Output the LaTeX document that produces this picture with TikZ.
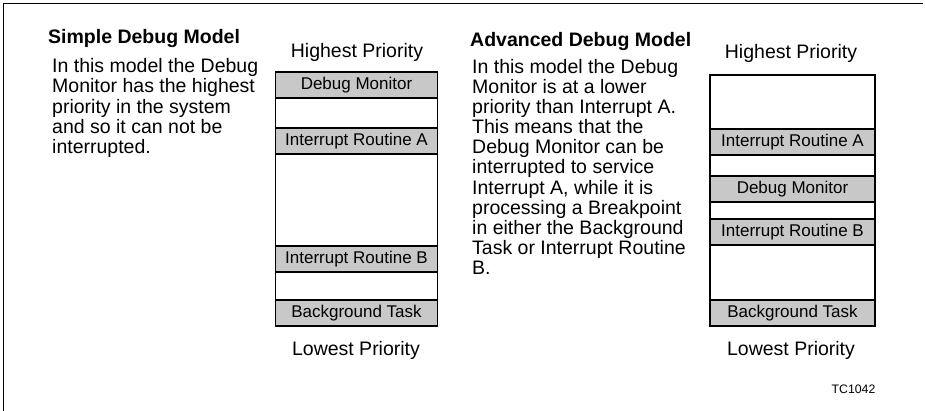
\documentclass[tikz,border=0pt]{standalone}
\usepackage{fontspec}
\setmainfont{Liberation Sans}
\usepackage{xcolor}
\usepackage{tikz}
\definecolor{bandgray}{RGB}{200,200,200}

\begin{document}
\begin{tikzpicture}[x=1pt,y=-1pt,
  band/.style={draw, line width=1.6pt, fill=bandgray, minimum width=162pt, minimum height=26pt, inner sep=0pt, font=\fontsize{17}{17}\selectfont},
  prio/.style={anchor=base, inner sep=0pt, font=\fontsize{19.5}{20}\selectfont},
  title/.style={anchor=base west, inner sep=0pt, font=\fontsize{19.5}{20}\selectfont\bfseries},
  body/.style={anchor=north west, inner sep=0pt, align=left, font=\fontsize{19.5}{20.1}\selectfont}]
\useasboundingbox (0,0) rectangle (925,411);
\draw[line width=1.4pt] (3.5,411) -- (3.5,3.5) -- (923,3.5);

% simple debug model
\node[title] (simpletitle) at (48,44) {Simple Debug Model};
\node[body] (simpletext) at (52,58.5) {In this model the Debug\\Monitor has the highest\\priority in the system\\and so it can not be\\interrupted.};
\node[prio] (simplehigh) at (357,57.5) {Highest Priority};
\draw[line width=1.6pt] (275.5,72) rectangle (437.5,326);
\node[band] (simpledm) at (356.5,85) {Debug Monitor};
\node[band] (simpleira) at (356.5,141) {Interrupt Routine A};
\node[band] (simpleirb) at (356.5,259) {Interrupt Routine B};
\node[band] (simplebg) at (356.5,313) {Background Task};
\node[prio] (simplelow) at (356,355) {Lowest Priority};

% advanced debug model
\node[title] (advtitle) at (470,46.7) {Advanced Debug Model};
\node[body] (advtext) at (472,59.1) {In this model the Debug\\Monitor is at a lower\\priority than Interrupt A.\\This means that the\\Debug Monitor can be\\interrupted to service\\Interrupt A, while it is\\processing a Breakpoint\\in either the Background\\Task or Interrupt Routine\\B.};
\node[prio] (advhigh) at (791,59) {Highest Priority};
\draw[line width=1.6pt] (710,75) rectangle (875,326);
\begin{scope}[band/.append style={minimum width=165pt}]
\node[band] (advira) at (792.5,142) {Interrupt Routine A};
\node[band] (advdm) at (792.5,189) {Debug Monitor};
\node[band] (advirb) at (792.5,232) {Interrupt Routine B};
\node[band] (advbg) at (792.5,313) {Background Task};
\end{scope}
\node[prio] (advlow) at (791,355) {Lowest Priority};

\node[anchor=base, inner sep=0pt, font=\fontsize{12.3}{13}\selectfont] (tcref) at (853.5,393.3) {TC1042};
\end{tikzpicture}
\end{document}
